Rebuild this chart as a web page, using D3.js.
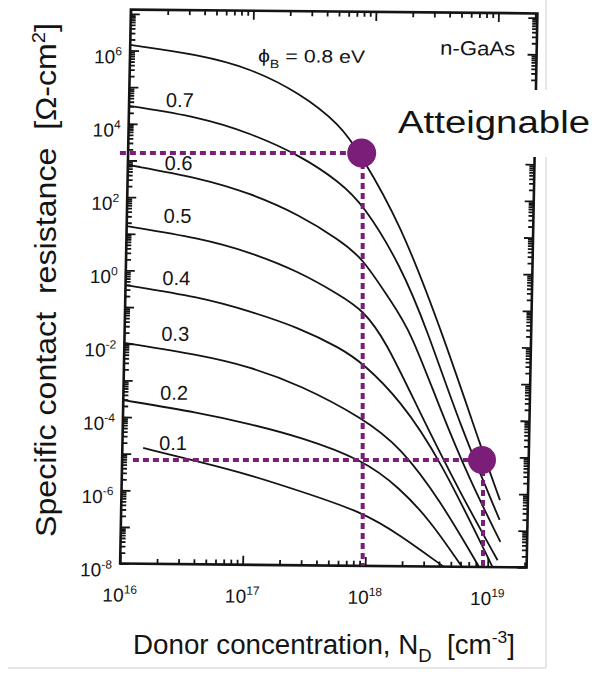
<!DOCTYPE html>
<html><head><meta charset="utf-8">
<script src="https://cdn.jsdelivr.net/npm/d3@7"></script>
<style>
body{margin:0;background:#fff}
svg{display:block}
text{font-family:"Liberation Sans",Arial,Helvetica,sans-serif;fill:#141414}
</style>
</head><body>
<svg id="c" width="594" height="675"></svg>
<script>
// ---------------- data (log10 N [cm^-3], log10 Rc [ohm cm^2]) ----------------
const barriers = ["0.8", "0.7", "0.6", "0.5", "0.4", "0.3", "0.2", "0.1"];
const phi08 = [[16.0,6.15],[16.57,5.90],[16.98,5.55],[17.39,4.89],[17.73,4.02],[17.89,3.26],[18.23,1.39],[18.60,-1.68],[18.95,-4.95],[19.09,-6.17]];
const phi07 = [[16.0,4.49],[16.58,4.20],[16.99,3.78],[17.40,3.19],[17.73,2.47],[17.93,1.85],[18.24,0.22],[18.47,-1.55],[18.75,-4.13],[19.09,-6.71]];
const phi06 = [[16.0,2.88],[16.59,2.54],[17.0,2.14],[17.41,1.56],[17.74,0.88],[17.93,0.40],[18.16,-0.74],[18.33,-1.55],[18.59,-3.73],[18.84,-5.63],[19.10,-7.31]];
const phi05 = [[16.0,1.21],[16.60,0.90],[17.01,0.53],[17.42,0.0],[17.75,-0.62],[17.94,-1.02],[18.13,-1.83],[18.42,-3.79],[18.76,-5.96],[19.08,-7.81]];
const phi04 = [[16.0,-0.40],[16.61,-0.71],[17.02,-1.08],[17.43,-1.53],[17.76,-2.06],[17.95,-2.47],[18.26,-3.47],[18.59,-5.04],[19.04,-8.0]];
const phi03 = [[16.0,-1.98],[16.62,-2.29],[17.03,-2.60],[17.44,-3.08],[17.96,-3.97],[18.27,-4.75],[18.60,-6.18],[18.93,-8.0]];
const phi02 = [[16.0,-3.54],[16.63,-3.87],[17.04,-4.16],[17.45,-4.50],[17.97,-5.11],[18.27,-5.87],[18.52,-6.73],[18.79,-8.0]];
const phi01 = [[16.17,-4.84],[16.64,-5.21],[17.05,-5.55],[17.46,-5.98],[17.97,-6.53],[18.28,-7.15],[18.64,-8.0]];
const curveLabels = ["0.7", "0.6", "0.5", "0.4", "0.3", "0.2", "0.1"];
const curveLabelAt = [[16.3,4.47],[16.3,2.75],[16.3,1.31],[16.3,-0.39],[16.3,-1.91],[16.3,-3.52],[16.3,-4.89]];
const xTickExp = [16, 17, 18, 19];
const yTickExp = [-8, -6, -4, -2, 0, 2, 4, 6];
// overlay ("Atteignable") : [log N at vertical line, log R at horizontal line, log N where the horizontal starts]
const markA = [17.98, 3.20, 15.933];
const markB = [18.962, -5.174, 16.088];
const annotation = "Atteignable";

// ---------------- layout ----------------
const svg = d3.select("#c");
const X0 = 125.5, X1 = 532, Y0 = 11.5, Y1 = 565.5;
const x = d3.scaleLog().domain([1e16, Math.pow(10, 19.318)]).range([X0, X1]);
const y = d3.scaleLog().domain([1e-8, Math.pow(10, 7.116)]).range([Y1, Y0]);
const X = e => x(Math.pow(10, e)), Y = e => y(Math.pow(10, e));

// slight tilt of the scanned figure
const cx = 328.75, cy = 288.75, k1 = -0.0195, k2 = 0.0095;
const T = (px, py) => [px + k1 * (py - cy), py + k2 * (px - cx)];

// scan border
svg.append("line").attr("x1", 546).attr("x2", 546).attr("y1", 0).attr("y2", 668)
  .attr("stroke", "#e6e6e6").attr("stroke-width", 2);
svg.append("line").attr("x1", 8).attr("x2", 546).attr("y1", 668).attr("y2", 668)
  .attr("stroke", "#e6e6e6").attr("stroke-width", 2);

const g = svg.append("g")
  .attr("transform", `matrix(1,${k2},${k1},1,${-k1 * cy},${-k2 * cx})`);

svg.append("defs").append("clipPath").attr("id", "clip")
  .append("rect").attr("x", X0).attr("y", Y0).attr("width", X1 - X0).attr("height", Y1 - Y0);

// ticks
const xMinor = [], yMinor = [];
for (let e = 16; e <= 19; e++) for (let m = 2; m <= 9; m++) { const v = m * Math.pow(10, e); if (v < x.domain()[1]) xMinor.push(v); }
for (let e = -8; e <= 7; e++) for (let m = 2; m <= 9; m++) { const v = m * Math.pow(10, e); if (v < y.domain()[1]) yMinor.push(v); }
const xMajor = [16, 17, 18, 19].map(e => Math.pow(10, e));
const yMajor = d3.range(-8, 8).map(e => Math.pow(10, e));

function styleAxis(sel) {
  sel.select(".domain").remove();
  sel.selectAll(".tick line").attr("stroke", "#141414").attr("stroke-width", 1.8);
}
const axes = [
  [d3.axisLeft(y), `translate(${X0},0)`, yMinor, yMajor],
  [d3.axisRight(y), `translate(${X1},0)`, yMinor, yMajor],
  [d3.axisBottom(x), `translate(0,${Y1})`, xMinor, xMajor],
  [d3.axisTop(x), `translate(0,${Y0})`, xMinor, xMajor]
];
axes.forEach(([ax, tr, minor, major]) => {
  g.append("g").attr("transform", tr).call(ax.tickValues(minor).tickSize(-5).tickFormat("")).call(styleAxis);
  g.append("g").attr("transform", tr).call(ax.tickValues(major).tickSize(-9).tickFormat("")).call(styleAxis);
});

// frame
g.append("rect").attr("x", X0).attr("y", Y0).attr("width", X1 - X0).attr("height", Y1 - Y0)
  .attr("fill", "none").attr("stroke", "#141414").attr("stroke-width", 2.6);

// tick labels
yTickExp.forEach(e => {
  const t = g.append("text").attr("x", X0 - 8).attr("y", Y(e) + 13)
    .attr("text-anchor", "end").attr("font-size", 19);
  t.append("tspan").text("10");
  t.append("tspan").attr("font-size", 12).attr("dy", -8).text(e);
});
xTickExp.forEach(e => {
  const t = g.append("text").attr("x", X(e) - 17).attr("y", Y1 + 38).attr("font-size", 19);
  t.append("tspan").text("10");
  t.append("tspan").attr("font-size", 12).attr("dy", -8).text(e);
});

// curves
const line = d3.line().x(d => X(d[0])).y(d => Y(d[1])).curve(d3.curveBasis);
const series = [phi08, phi07, phi06, phi05, phi04, phi03, phi02, phi01];
g.append("g").attr("clip-path", "url(#clip)").selectAll("path").data(series).join("path")
  .attr("d", line).attr("fill", "none").attr("stroke", "#141414").attr("stroke-width", 1.8);

// curve labels
curveLabels.forEach((s, i) => {
  g.append("text").attr("x", X(curveLabelAt[i][0])).attr("y", Y(curveLabelAt[i][1]))
    .attr("font-size", 20).text(s);
});
const phiT = g.append("text").attr("x", X(17.046)).attr("y", Y(5.72)).attr("font-size", 18)
  .attr("textLength", 107).attr("lengthAdjust", "spacingAndGlyphs");
phiT.append("tspan").text("\u03D5");
phiT.append("tspan").attr("font-size", 12).attr("dy", 6).text("B");
phiT.append("tspan").attr("dy", -6).text("\u00A0= " + barriers[0] + " eV");
g.append("text").attr("x", X(18.53)).attr("y", Y(5.96)).attr("font-size", 20)
  .attr("textLength", 75).attr("lengthAdjust", "spacingAndGlyphs").text("n-GaAs");

// axis titles
const yt = svg.append("text").attr("transform", "translate(56,280) rotate(-90)")
  .attr("text-anchor", "middle").attr("font-size", 30)
  .attr("textLength", 514).attr("lengthAdjust", "spacingAndGlyphs");
yt.append("tspan").text("Specific contact\u00A0\u00A0resistance\u00A0\u00A0[\u03A9-cm");
yt.append("tspan").attr("font-size", 19).attr("dy", -11).text("2");
yt.append("tspan").attr("dy", 11).text("]");

const xt = svg.append("text").attr("x", 133).attr("y", 654).attr("font-size", 27)
  .attr("textLength", 382).attr("lengthAdjust", "spacingAndGlyphs");
xt.append("tspan").text("Donor concentration, N");
xt.append("tspan").attr("font-size", 18).attr("dy", 8).text("D");
xt.append("tspan").attr("dy", -8).text("\u00A0\u00A0[cm");
xt.append("tspan").attr("font-size", 17).attr("dy", -11).text("-3");
xt.append("tspan").attr("dy", 11).text("]");

// overlay: white label box + text
svg.append("rect").attr("x", 392).attr("y", 90).attr("width", 202).attr("height", 67).attr("fill", "#fff");
svg.append("text").attr("x", 398).attr("y", 133).attr("font-size", 31)
  .attr("textLength", 192).attr("lengthAdjust", "spacingAndGlyphs").attr("fill", "#000").text(annotation);

// overlay: dotted guide lines and dots (screen aligned, from axis values)
const purple = "#7b1e7a";
[[markA, 14.5], [markB, 14]].forEach(([m, r]) => {
  const vx = T(X(m[0]), Y1)[0];
  const vyEnd = T(X(m[0]), Y1)[1];
  const hy = T(X0, Y(m[1]))[1];
  const hx0 = T(X(m[2]), Y(m[1]))[0];
  svg.append("line").attr("x1", hx0).attr("x2", vx).attr("y1", hy).attr("y2", hy)
    .attr("stroke", purple).attr("stroke-width", 4).attr("stroke-dasharray", "6,4");
  svg.append("line").attr("x1", vx).attr("x2", vx).attr("y1", hy).attr("y2", vyEnd)
    .attr("stroke", purple).attr("stroke-width", 4).attr("stroke-dasharray", "6,4");
  svg.append("circle").attr("cx", vx - 1).attr("cy", hy).attr("r", r).attr("fill", purple);
});
</script>
</body></html>
